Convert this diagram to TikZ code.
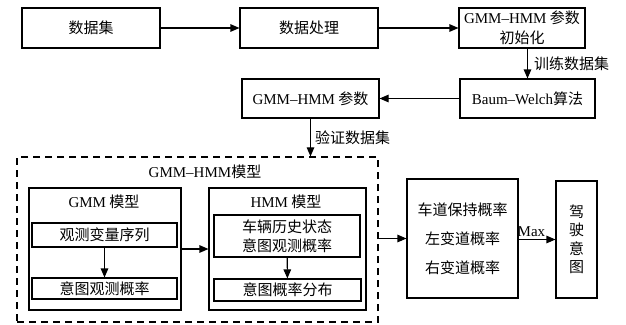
\documentclass[tikz,border=0pt]{standalone}
\usepackage{fontspec}
\setmainfont{Noto Sans CJK SC}
\newfontfamily\lat[Ligatures=TeX]{Liberation Serif}
\usetikzlibrary{arrows.meta}
\begin{document}
\begin{tikzpicture}[x=1pt,y=-1pt, font=\fontsize{15}{18}\selectfont,
  box/.style={draw, line width=1.1pt, inner sep=0pt, align=center},
  arr/.style={line width=1.1pt, -{Triangle[length=9pt,width=7.5pt]}},
  lbl/.style={inner sep=0pt, align=center}]
\useasboundingbox (0,0) rectangle (626,324);
% top row
\node[box, minimum width=138pt, minimum height=40pt] (ds) at (91,28) {数据集};
\node[box, minimum width=138pt, minimum height=40pt] (proc) at (309,28) {数据处理};
\node[box, minimum width=126pt, minimum height=40pt, font=\fontsize{15}{20}\selectfont] (init) at (522,28) {{\lat GMM--HMM} 参数\\初始化};
% second row
\node[box, minimum width=135pt, minimum height=39pt] (bw) at (527.5,98.5) {{\lat Baum--Welch}算法};
\node[box, minimum width=137pt, minimum height=39pt] (par) at (310.5,98.5) {{\lat GMM--HMM} 参数};
% model
\node[draw, line width=1.2pt, dash pattern=on 7pt off 5pt, minimum width=361pt, minimum height=165pt, inner sep=0pt] (mdl) at (197.5,239.5) {};
\node[lbl] (mdlt) at (205,172) {{\lat GMM--HMM}模型};
\node[box, minimum width=152pt, minimum height=122pt] (gmm) at (105,249) {};
\node[lbl] (gmmt) at (104,202) {{\lat GMM} 模型};
\node[box, minimum width=145pt, minimum height=24pt] (obs) at (104.5,235) {观测变量序列};
\node[box, minimum width=145pt, minimum height=21pt] (iop) at (104.5,288.5) {意图观测概率};
\node[box, minimum width=157pt, minimum height=122pt] (hmm) at (287.5,249) {};
\node[lbl] (hmmt) at (286,202) {{\lat HMM} 模型};
\node[box, minimum width=146pt, minimum height=42pt, font=\fontsize{15}{19}\selectfont] (veh) at (287,236) {车辆历史状态\\意图观测概率};
\node[box, minimum width=147pt, minimum height=22pt] (ipd) at (287.5,290) {意图概率分布};
% right part
\node[box, minimum width=111pt, minimum height=119pt] (prob) at (462.5,238.5) {车道保持概率\\[11pt]左变道概率\\[11pt]右变道概率};
\node[box, minimum width=41pt, minimum height=117pt, font=\fontsize{15}{18.5}\selectfont] (drv) at (576.5,239.5) {驾\\驶\\意\\图};
% connectors
\draw[arr] (ds) -- (proc);
\draw[arr] (proc) -- (init);
\draw[arr] (bw.north |- init.south) -- node[right, inner sep=6pt] {训练数据集} (bw.north);
\draw[arr] (bw) -- (par);
\draw[arr] (par.south) -- node[right, inner sep=4pt] {验证数据集} (par.south |- mdl.north);
\draw[arr] (obs) -- (iop);
\draw[arr] (veh) -- (ipd);
\draw[arr] (gmm) -- (hmm);
\draw[arr] (mdl.east |- prob.west) -- (prob.west);
\draw[arr] (prob.east |- drv.west) -- node[above, pos=0.35, inner sep=2pt] {\lat Max} (drv.west);
\end{tikzpicture}
\end{document}
